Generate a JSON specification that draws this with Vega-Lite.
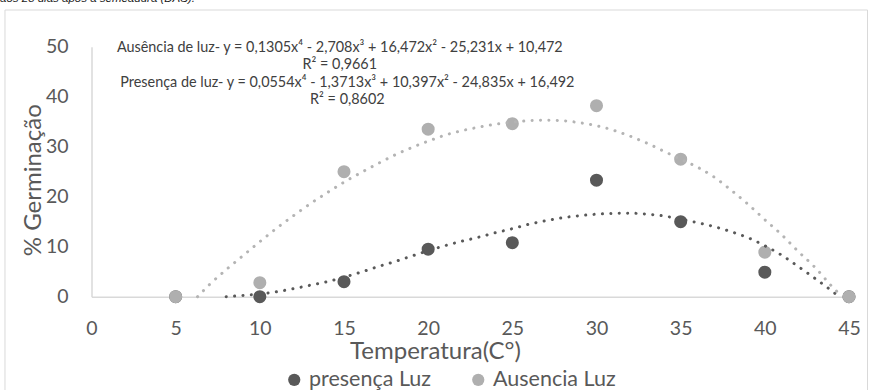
{
  "$schema": "https://vega.github.io/schema/vega-lite/v6.json",
  "width": 757.5,
  "height": 250,
  "autosize": {"type": "none"},
  "padding": {"left": 91.5, "top": 46.7, "right": 22, "bottom": 93.3},
  "background": "white",
  "config": {
    "view": {"stroke": null},
    "font": "Lato",
    "legend": {
      "orient": "none",
      "legendX": 192,
      "legendY": 322,
      "direction": "horizontal",
      "padding": 0,
      "symbolType": "circle",
      "symbolSize": 150,
      "symbolStrokeWidth": 0,
      "symbolOpacity": 1,
      "labelFont": "Lato",
      "labelFontSize": 21.5,
      "labelColor": "#595959",
      "labelOffset": 4,
      "columnPadding": 36,
      "title": null
    }
  },
  "title": {
    "text": "aos 28 dias após a semeadura (DAS).",
    "anchor": "start",
    "frame": "group",
    "orient": "top",
    "font": "Liberation Sans",
    "fontStyle": "italic",
    "fontWeight": "normal",
    "fontSize": 11.5,
    "color": "#222222",
    "baseline": "alphabetic",
    "dx": -91.5,
    "dy": 8,
    "offset": 4
  },
  "datasets": {
    "pontos": [
      {"temp": 5, "serie": "presença Luz", "pct": 0},
      {"temp": 10, "serie": "presença Luz", "pct": 0},
      {"temp": 15, "serie": "presença Luz", "pct": 3.0},
      {"temp": 20, "serie": "presença Luz", "pct": 9.5},
      {"temp": 25, "serie": "presença Luz", "pct": 10.8},
      {"temp": 30, "serie": "presença Luz", "pct": 23.3},
      {"temp": 35, "serie": "presença Luz", "pct": 15.0},
      {"temp": 40, "serie": "presença Luz", "pct": 4.9},
      {"temp": 45, "serie": "presença Luz", "pct": 0},
      {"temp": 5, "serie": "Ausencia Luz", "pct": 0},
      {"temp": 10, "serie": "Ausencia Luz", "pct": 2.8},
      {"temp": 15, "serie": "Ausencia Luz", "pct": 25.0},
      {"temp": 20, "serie": "Ausencia Luz", "pct": 33.5},
      {"temp": 25, "serie": "Ausencia Luz", "pct": 34.6},
      {"temp": 30, "serie": "Ausencia Luz", "pct": 38.2},
      {"temp": 35, "serie": "Ausencia Luz", "pct": 27.5},
      {"temp": 40, "serie": "Ausencia Luz", "pct": 8.9},
      {"temp": 45, "serie": "Ausencia Luz", "pct": 0}
    ],
    "tendencia": [
      {"temp": 8.0, "serie": "presença Luz", "pct": 0},
      {"temp": 9, "serie": "presença Luz", "pct": 0.25},
      {"temp": 10, "serie": "presença Luz", "pct": 0.55},
      {"temp": 11, "serie": "presença Luz", "pct": 1.0},
      {"temp": 12, "serie": "presença Luz", "pct": 1.6},
      {"temp": 13, "serie": "presença Luz", "pct": 2.3},
      {"temp": 14, "serie": "presença Luz", "pct": 3.0},
      {"temp": 15, "serie": "presença Luz", "pct": 3.9},
      {"temp": 16, "serie": "presença Luz", "pct": 4.9},
      {"temp": 17, "serie": "presença Luz", "pct": 6.0},
      {"temp": 18, "serie": "presença Luz", "pct": 7.0},
      {"temp": 19, "serie": "presença Luz", "pct": 8.1},
      {"temp": 20, "serie": "presença Luz", "pct": 9.2},
      {"temp": 21, "serie": "presença Luz", "pct": 10.2},
      {"temp": 22, "serie": "presença Luz", "pct": 11.1},
      {"temp": 23, "serie": "presença Luz", "pct": 11.9},
      {"temp": 24, "serie": "presença Luz", "pct": 12.8},
      {"temp": 25, "serie": "presença Luz", "pct": 13.6},
      {"temp": 26, "serie": "presença Luz", "pct": 14.5},
      {"temp": 27, "serie": "presença Luz", "pct": 15.2},
      {"temp": 28, "serie": "presença Luz", "pct": 15.8},
      {"temp": 29, "serie": "presença Luz", "pct": 16.2},
      {"temp": 30, "serie": "presença Luz", "pct": 16.5},
      {"temp": 31, "serie": "presença Luz", "pct": 16.65},
      {"temp": 32, "serie": "presença Luz", "pct": 16.7},
      {"temp": 33, "serie": "presença Luz", "pct": 16.5},
      {"temp": 34, "serie": "presença Luz", "pct": 16.15},
      {"temp": 35, "serie": "presença Luz", "pct": 15.5},
      {"temp": 36, "serie": "presença Luz", "pct": 14.8},
      {"temp": 37, "serie": "presença Luz", "pct": 14.0},
      {"temp": 38, "serie": "presença Luz", "pct": 13.0},
      {"temp": 39, "serie": "presença Luz", "pct": 11.8},
      {"temp": 40, "serie": "presença Luz", "pct": 10.2},
      {"temp": 41, "serie": "presença Luz", "pct": 8.3},
      {"temp": 42, "serie": "presença Luz", "pct": 6.0},
      {"temp": 43, "serie": "presença Luz", "pct": 3.6},
      {"temp": 44, "serie": "presença Luz", "pct": 1.1},
      {"temp": 44.4, "serie": "presença Luz", "pct": 0},
      {"temp": 6.3, "serie": "Ausencia Luz", "pct": 0},
      {"temp": 7, "serie": "Ausencia Luz", "pct": 2.4},
      {"temp": 8, "serie": "Ausencia Luz", "pct": 5.4},
      {"temp": 9, "serie": "Ausencia Luz", "pct": 8.2},
      {"temp": 10, "serie": "Ausencia Luz", "pct": 11.0},
      {"temp": 11, "serie": "Ausencia Luz", "pct": 13.7},
      {"temp": 12, "serie": "Ausencia Luz", "pct": 16.2},
      {"temp": 13, "serie": "Ausencia Luz", "pct": 18.6},
      {"temp": 14, "serie": "Ausencia Luz", "pct": 20.8},
      {"temp": 15, "serie": "Ausencia Luz", "pct": 22.9},
      {"temp": 16, "serie": "Ausencia Luz", "pct": 24.8},
      {"temp": 17, "serie": "Ausencia Luz", "pct": 26.6},
      {"temp": 18, "serie": "Ausencia Luz", "pct": 28.3},
      {"temp": 19, "serie": "Ausencia Luz", "pct": 29.8},
      {"temp": 20, "serie": "Ausencia Luz", "pct": 31.1},
      {"temp": 21, "serie": "Ausencia Luz", "pct": 32.3},
      {"temp": 22, "serie": "Ausencia Luz", "pct": 33.2},
      {"temp": 23, "serie": "Ausencia Luz", "pct": 33.9},
      {"temp": 24, "serie": "Ausencia Luz", "pct": 34.5},
      {"temp": 25, "serie": "Ausencia Luz", "pct": 34.9},
      {"temp": 26, "serie": "Ausencia Luz", "pct": 35.2},
      {"temp": 27, "serie": "Ausencia Luz", "pct": 35.3},
      {"temp": 28, "serie": "Ausencia Luz", "pct": 35.2},
      {"temp": 29, "serie": "Ausencia Luz", "pct": 34.8},
      {"temp": 30, "serie": "Ausencia Luz", "pct": 34.2},
      {"temp": 31, "serie": "Ausencia Luz", "pct": 33.3},
      {"temp": 32, "serie": "Ausencia Luz", "pct": 32.1},
      {"temp": 33, "serie": "Ausencia Luz", "pct": 30.7},
      {"temp": 34, "serie": "Ausencia Luz", "pct": 29.1},
      {"temp": 35, "serie": "Ausencia Luz", "pct": 27.5},
      {"temp": 36, "serie": "Ausencia Luz", "pct": 25.9},
      {"temp": 37, "serie": "Ausencia Luz", "pct": 23.9},
      {"temp": 38, "serie": "Ausencia Luz", "pct": 21.3},
      {"temp": 39, "serie": "Ausencia Luz", "pct": 18.5},
      {"temp": 40, "serie": "Ausencia Luz", "pct": 15.4},
      {"temp": 41, "serie": "Ausencia Luz", "pct": 12.4},
      {"temp": 42, "serie": "Ausencia Luz", "pct": 9.0},
      {"temp": 43, "serie": "Ausencia Luz", "pct": 5.8},
      {"temp": 44, "serie": "Ausencia Luz", "pct": 2.0},
      {"temp": 44.6, "serie": "Ausencia Luz", "pct": 0}
    ]
  },
  "layer": [
    {
      "data": {"values": [{}]},
      "mark": {"type": "rect", "fill": "transparent", "stroke": "#d9d9d9", "strokeWidth": 1, "clip": false},
      "encoding": {
        "x": {"datum": -5.14, "type": "quantitative"},
        "x2": {"datum": 46.1},
        "y": {"datum": 57.34, "type": "quantitative"},
        "y2": {"datum": -20}
      }
    },
    {
      "data": {"name": "pontos"},
      "mark": {"type": "point", "filled": true, "size": 170, "opacity": 1, "strokeWidth": 0},
      "encoding": {
        "x": {
          "field": "temp",
          "type": "quantitative",
          "scale": {"domain": [0, 45], "nice": false, "zero": false},
          "axis": {
            "values": [0, 5, 10, 15, 20, 25, 30, 35, 40, 45],
            "grid": false,
            "ticks": false,
            "domainColor": "#d9d9d9",
            "domainWidth": 1.5,
            "labelFont": "Lato",
            "labelFontSize": 19.5,
            "labelColor": "#595959",
            "labelPadding": 23,
            "labelFlush": false,
            "title": "Temperatura(C°)",
            "titleFont": "Lato",
            "titleFontSize": 24,
            "titleFontWeight": "normal",
            "titleColor": "#595959",
            "titlePadding": 1,
            "titleX": 343.5
          }
        },
        "y": {
          "field": "pct",
          "type": "quantitative",
          "scale": {"domain": [0, 50], "nice": false, "zero": false},
          "axis": {
            "values": [0, 10, 20, 30, 40, 50],
            "grid": false,
            "ticks": false,
            "domainColor": "#d9d9d9",
            "domainWidth": 1.5,
            "labelFont": "Lato",
            "labelFontSize": 19.5,
            "labelColor": "#595959",
            "labelPadding": 23.5,
            "labelFlush": false,
            "title": "% Germinação",
            "titleFont": "Lato",
            "titleFontSize": 24,
            "titleFontWeight": "normal",
            "titleColor": "#595959",
            "titlePadding": 0,
            "titleY": 133
          }
        },
        "color": {
          "field": "serie",
          "type": "nominal",
          "scale": {"domain": ["presença Luz", "Ausencia Luz"], "range": ["#595959", "#afafaf"]},
          "legend": {"title": null}
        }
      }
    },
    {
      "data": {"name": "tendencia"},
      "mark": {"type": "line", "strokeWidth": 3, "strokeDash": [0.1, 8.3], "strokeCap": "round", "interpolate": "monotone"},
      "encoding": {
        "x": {"field": "temp", "type": "quantitative"},
        "y": {"field": "pct", "type": "quantitative"},
        "stroke": {
          "field": "serie",
          "type": "nominal",
          "scale": {"domain": ["presença Luz", "Ausencia Luz"], "range": ["#595959", "#b4b4b4"]},
          "legend": null
        }
      }
    },
    {
      "data": {"values": [{}]},
      "mark": {"type": "text", "font": "Lato", "fontSize": 14.4, "color": "#404040", "align": "center", "baseline": "middle"},
      "encoding": {
        "x": {"datum": 14.75, "type": "quantitative"},
        "y": {"datum": 49.68, "type": "quantitative"},
        "text": {"value": "Ausência de luz- y = 0,1305x⁴ - 2,708x³ + 16,472x² - 25,231x + 10,472"}
      }
    },
    {
      "data": {"values": [{}]},
      "mark": {"type": "text", "font": "Lato", "fontSize": 14.4, "color": "#404040", "align": "center", "baseline": "middle"},
      "encoding": {
        "x": {"datum": 14.75, "type": "quantitative"},
        "y": {"datum": 46.34, "type": "quantitative"},
        "text": {"value": "R² = 0,9661"}
      }
    },
    {
      "data": {"values": [{}]},
      "mark": {"type": "text", "font": "Lato", "fontSize": 14.4, "color": "#404040", "align": "center", "baseline": "middle"},
      "encoding": {
        "x": {"datum": 15.2, "type": "quantitative"},
        "y": {"datum": 42.68, "type": "quantitative"},
        "text": {"value": "Presença de luz- y = 0,0554x⁴ - 1,3713x³ + 10,397x² - 24,835x + 16,492"}
      }
    },
    {
      "data": {"values": [{}]},
      "mark": {"type": "text", "font": "Lato", "fontSize": 14.4, "color": "#404040", "align": "center", "baseline": "middle"},
      "encoding": {
        "x": {"datum": 15.2, "type": "quantitative"},
        "y": {"datum": 39.34, "type": "quantitative"},
        "text": {"value": "R² = 0,8602"}
      }
    }
  ]
}
